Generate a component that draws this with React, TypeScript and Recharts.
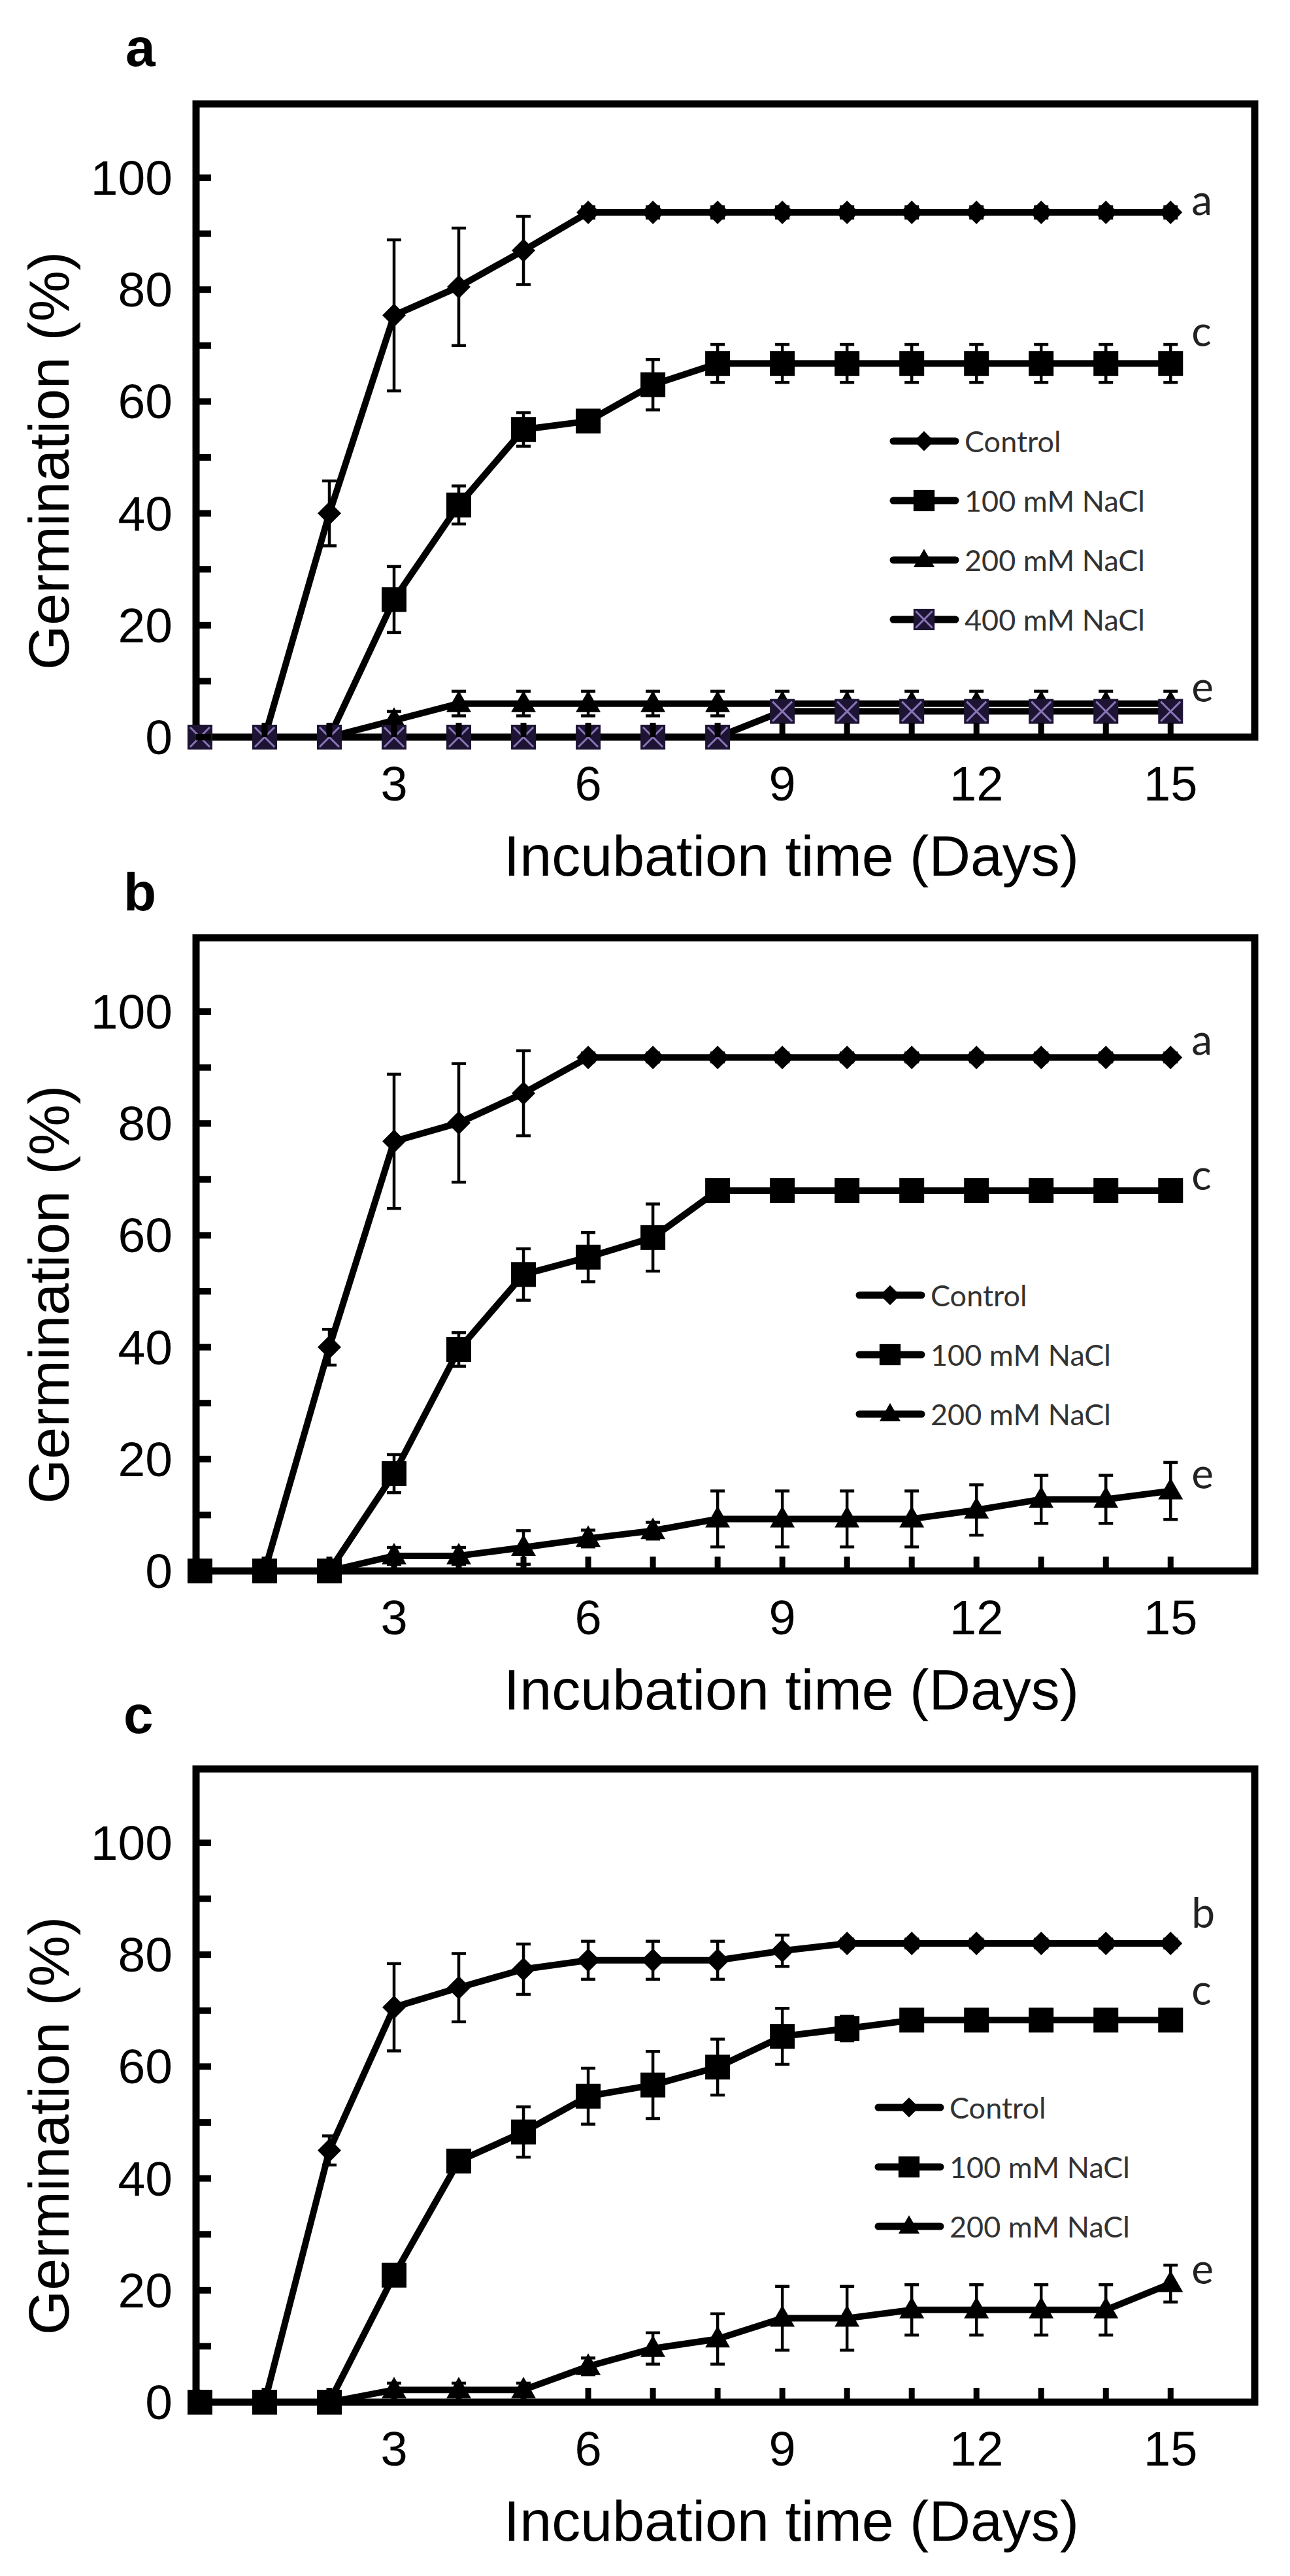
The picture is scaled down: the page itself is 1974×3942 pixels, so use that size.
import React from "react"
import {
  LineChart,
  Line,
  XAxis,
  YAxis,
  ErrorBar,
  ReferenceArea,
  Legend,
  Label,
  LabelList,
} from "recharts"

// shared axes
const days = [0, 1, 2, 3, 4, 5, 6, 7, 8, 9, 10, 11, 12, 13, 14, 15]
const xTicks = [1, 2, 3, 4, 5, 6, 7, 8, 9, 10, 11, 12, 13, 14, 15]
const yTicks = [0, 10, 20, 30, 40, 50, 60, 70, 80, 90, 100]
const treatments = ["Control", "100 mM NaCl", "200 mM NaCl", "400 mM NaCl"]
const panelLetters = ["a", "b", "c"]
const xTitle = "Incubation time (Days)"
const yTitle = "Germination (%)"

// panel a
const aControl = [0, 0, 40, 75.4, 80.5, 87, 93.8, 93.8, 93.8, 93.8, 93.8, 93.8, 93.8, 93.8, 93.8, 93.8]
const aControlErr = [0, 0, 5.8, 13.5, 10.5, 6.1, 1, 1, 1, 1, 1, 1, 1, 1, 1, 1]
const a100 = [0, 0, 0, 24.6, 41.5, 55, 56.5, 63, 66.8, 66.8, 66.8, 66.8, 66.8, 66.8, 66.8, 66.8]
const a100Err = [0, 0, 0, 5.9, 3.4, 3, 1.5, 4.5, 3.4, 3.4, 3.4, 3.4, 3.4, 3.4, 3.4, 3.4]
const a200 = [0, 0, 0, 3, 6, 6, 6, 6, 6, 6, 6, 6, 6, 6, 6, 6]
const a200Err = [0, 0, 0, 1.6, 2.2, 2.2, 2.2, 2.2, 2.2, 2.2, 2.2, 2.2, 2.2, 2.2, 2.2, 2.2]
const a400 = [0, 0, 0, 0, 0, 0, 0, 0, 0, 4.6, 4.6, 4.6, 4.6, 4.6, 4.6, 4.6]
const a400Err = [0, 0, 0, 0, 0, 0, 0, 0, 0, 0.8, 0.8, 0.8, 0.8, 0.8, 0.8, 0.8]
const aTags = ["a", "c", "e", ""]

// panel b
const bControl = [0, 0, 40, 76.8, 80.1, 85.4, 91.8, 91.8, 91.8, 91.8, 91.8, 91.8, 91.8, 91.8, 91.8, 91.8]
const bControlErr = [0, 0, 3.2, 12, 10.6, 7.6, 0.8, 0.8, 0.8, 0.8, 0.8, 0.8, 0.8, 0.8, 0.8, 0.8]
const b100 = [0, 0, 0, 17.4, 39.6, 53, 56.1, 59.6, 68, 68, 68, 68, 68, 68, 68, 68]
const b100Err = [0, 0, 0, 3.4, 3, 4.6, 4.4, 6, 0.8, 0.8, 0.8, 0.8, 0.8, 0.8, 0.8, 0.8]
const b200 = [0, 0, 0, 2.7, 2.7, 4.2, 5.8, 7.2, 9.3, 9.3, 9.3, 9.3, 10.9, 12.8, 12.8, 14.3]
const b200Err = [0, 0, 0, 1.5, 1.5, 3, 1.5, 1.5, 5, 5, 5, 5, 4.5, 4.3, 4.3, 5.1]
const bTags = ["a", "c", "e"]

// panel c
const cControl = [0, 0, 45, 70.6, 74.1, 77.4, 79, 79, 79, 80.7, 82, 82, 82, 82, 82, 82]
const cControlErr = [0, 0, 2.6, 7.8, 6.1, 4.5, 3.4, 3.4, 3.4, 2.8, 0.8, 0.8, 0.8, 0.8, 0.8, 0.8]
const c100 = [0, 0, 0, 22.7, 43.1, 48.3, 54.7, 56.7, 59.9, 65.4, 66.8, 68.3, 68.3, 68.3, 68.3, 68.3]
const c100Err = [0, 0, 0, 1, 1, 4.5, 5, 6, 5, 5, 2.2, 0.8, 0.8, 0.8, 0.8, 0.8]
const c200 = [0, 0, 0, 2.2, 2.2, 2.2, 6.4, 9.6, 11.3, 15, 15, 16.5, 16.5, 16.5, 16.5, 21.2]
const c200Err = [0, 0, 0, 1.2, 1.2, 1.2, 1.5, 2.8, 4.5, 5.7, 5.7, 4.5, 4.5, 4.5, 4.5, 3.3]
const cTags = ["b", "c", "e"]

const X_MIN = -0.06
const X_MAX = 16.3
const Y_MAX = 113.2
const ARIAL = "'Liberation Sans', Arial, sans-serif"
const CALIBRI = "Lato, 'Open Sans', sans-serif"

type Shape = "diamond" | "square" | "triangle" | "xsquare"

interface Series {
  key: string
  name: string
  values: number[]
  errors: number[]
  shape: Shape
  tag: string
  tagLift: number
}

function Marker({ shape, cx, cy, k = 1 }: { shape: Shape; cx?: number; cy?: number; k?: number }) {
  if (cx == null || cy == null || isNaN(cx) || isNaN(cy)) return null
  if (shape === "diamond") {
    const w = 18 * k
    const h = 18 * k
    return <polygon points={`${cx},${cy - h} ${cx + w},${cy} ${cx},${cy + h} ${cx - w},${cy}`} fill="#000" />
  }
  if (shape === "square") {
    const s = 19 * k
    return <rect x={cx - s} y={cy - s} width={2 * s} height={2 * s} fill="#000" />
  }
  if (shape === "triangle") {
    const w = 19 * k
    return (
      <polygon
        points={`${cx},${cy - 20 * k} ${cx + w},${cy + 13 * k} ${cx - w},${cy + 13 * k}`}
        fill="#000"
      />
    )
  }
  const s = 19 * k
  const i = 4 * k
  return (
    <g>
      <rect x={cx - s} y={cy - s} width={2 * s} height={2 * s} fill="#1c1432" />
      <line x1={cx - s + i} y1={cy - s + i} x2={cx + s - i} y2={cy + s - i} stroke="#8a74b8" strokeWidth={3} />
      <line x1={cx - s + i} y1={cy + s - i} x2={cx + s - i} y2={cy - s + i} stroke="#8a74b8" strokeWidth={3} />
    </g>
  )
}

function XTick(props: any) {
  const { x, y, payload } = props
  const v = payload?.value
  return (
    <g>
      <line x1={x} x2={x} y1={y} y2={y - 22} stroke="#000" strokeWidth={9} />
      {v % 3 === 0 && (
        <text x={x} y={y + 97} textAnchor="middle" fontFamily={ARIAL} fontSize={74} fill="#000">
          {v}
        </text>
      )}
    </g>
  )
}

function YTick(props: any) {
  const { x, y, payload } = props
  const v = payload?.value
  return (
    <g>
      <line x1={x} x2={x + 23} y1={y} y2={y} stroke="#000" strokeWidth={10} />
      {v % 20 === 0 && (
        <text x={x - 36} y={y} textAnchor="end" dominantBaseline="central" fontFamily={ARIAL} fontSize={75} fill="#000">
          {v}
        </text>
      )}
    </g>
  )
}

function Panel({
  top,
  series,
  legendX,
  legendY,
}: {
  top: number
  series: Series[]
  legendX: number
  legendY: number
}) {
  const last = days.length - 1
  const rows = days.map((d, i) => {
    const r: Record<string, any> = { day: d }
    series.forEach((s) => {
      r[s.key] = s.values[i]
      r[s.key + "Err"] = s.errors[i]
      r[s.key + "Tag"] = i === last && s.tag ? s.tag : undefined
    })
    return r
  })

  const renderLegend = (props: any) => {
    const names: string[] = (props?.payload ?? []).map((p: any) => p.value)
    let items = series.filter((s) => names.includes(s.name))
    if (items.length === 0) items = series
    return (
      <svg width={560} height={items.length * 91 + 10} style={{ overflow: "visible" }}>
        {items.map((s, i) => (
          <g key={s.key} transform={`translate(0, ${45 + i * 91})`}>
            <line x1={5} x2={100} y1={0} y2={0} stroke="#000" strokeWidth={11} strokeLinecap="round" />
            <Marker shape={s.shape} cx={52} cy={0} k={0.85} />
            <text x={114} y={0} dominantBaseline="central" fontFamily={CALIBRI} fontSize={45} fill="#333">
              {s.name}
            </text>
          </g>
        ))}
      </svg>
    )
  }

  return (
    <div style={{ position: "absolute", left: 0, top }}>
      <LineChart width={1974} height={1390} data={rows} margin={{ top: 159, right: 54, bottom: 0, left: 0 }}>
        <ReferenceArea
          x1={X_MIN}
          x2={X_MAX}
          y1={0}
          y2={Y_MAX}
          fill="none"
          fillOpacity={0}
          stroke="#000"
          strokeWidth={11}
          ifOverflow="visible"
        />
        <XAxis
          type="number"
          dataKey="day"
          domain={[X_MIN, X_MAX]}
          ticks={xTicks}
          interval={0}
          axisLine={false}
          tickLine={false}
          tickSize={0}
          tickMargin={0}
          height={262}
          tick={(p: any) => <XTick {...p} />}
        >
          <Label
            content={() => (
              <text x={1211} y={1340} textAnchor="middle" fontFamily={ARIAL} fontSize={88} fill="#000">
                {xTitle}
              </text>
            )}
          />
        </XAxis>
        <YAxis
          type="number"
          domain={[0, Y_MAX]}
          ticks={yTicks}
          interval={0}
          axisLine={false}
          tickLine={false}
          tickSize={0}
          tickMargin={0}
          width={300}
          tick={(p: any) => <YTick {...p} />}
        >
          <Label
            content={() => (
              <text
                x={74}
                y={705}
                transform="rotate(-90 74 705)"
                textAnchor="middle"
                dominantBaseline="central"
                fontFamily={ARIAL}
                fontSize={88}
                fill="#000"
              >
                {yTitle}
              </text>
            )}
          />
        </YAxis>
        <Legend
          layout="vertical"
          align="center"
          verticalAlign="middle"
          wrapperStyle={{ left: legendX, top: legendY, width: 560, height: 380 }}
          content={renderLegend}
        />
        {series.map((s) => (
          <Line
            key={s.key}
            type="linear"
            dataKey={s.key}
            name={s.name}
            stroke="#000"
            strokeWidth={10}
            strokeLinejoin="round"
            isAnimationActive={false}
            dot={(p: any) => <Marker key={`${s.key}-${p.index}`} shape={s.shape} cx={p.cx} cy={p.cy} />}
            activeDot={false}
          >
            <ErrorBar dataKey={s.key + "Err"} direction="y" width={11} strokeWidth={4.5} stroke="#000" />
            <LabelList
              dataKey={s.key + "Tag"}
              content={(p: any) =>
                p.value ? (
                  <text
                    x={Number(p.x) + 32}
                    y={Number(p.y) + s.tagLift + 17}
                    fontFamily={CALIBRI}
                    fontSize={64}
                    fill="#222"
                  >
                    {p.value}
                  </text>
                ) : null
              }
            />
          </Line>
        ))}
      </LineChart>
    </div>
  )
}

const panelA: Series[] = [
  { key: "control", name: treatments[0], values: aControl, errors: aControlErr, shape: "diamond", tag: aTags[0], tagLift: -13 },
  { key: "n100", name: treatments[1], values: a100, errors: a100Err, shape: "square", tag: aTags[1], tagLift: -43 },
  { key: "n200", name: treatments[2], values: a200, errors: a200Err, shape: "triangle", tag: aTags[2], tagLift: -20 },
  { key: "n400", name: treatments[3], values: a400, errors: a400Err, shape: "xsquare", tag: aTags[3], tagLift: 0 },
]

const panelB: Series[] = [
  { key: "control", name: treatments[0], values: bControl, errors: bControlErr, shape: "diamond", tag: bTags[0], tagLift: -21 },
  { key: "n100", name: treatments[1], values: b100, errors: b100Err, shape: "square", tag: bTags[1], tagLift: -18 },
  { key: "n200", name: treatments[2], values: b200, errors: b200Err, shape: "triangle", tag: bTags[2], tagLift: -21 },
]

const panelC: Series[] = [
  { key: "control", name: treatments[0], values: cControl, errors: cControlErr, shape: "diamond", tag: cTags[0], tagLift: -41 },
  { key: "n100", name: treatments[1], values: c100, errors: c100Err, shape: "square", tag: cTags[1], tagLift: -40 },
  { key: "n200", name: treatments[2], values: c200, errors: c200Err, shape: "triangle", tag: cTags[2], tagLift: -17 },
]

export default function App() {
  return (
    <div style={{ position: "absolute", left: 0, top: 0, width: 1974, height: 3942, background: "#fff" }}>
      <svg width={1974} height={3942} style={{ position: "absolute", left: 0, top: 0 }}>
        <text x={192} y={101} fontFamily={ARIAL} fontWeight="bold" fontSize={82} fill="#000">
          {panelLetters[0]}
        </text>
        <text x={189} y={1393} fontFamily={ARIAL} fontWeight="bold" fontSize={82} fill="#000">
          {panelLetters[1]}
        </text>
        <text x={189} y={2652} fontFamily={ARIAL} fontWeight="bold" fontSize={82} fill="#000">
          {panelLetters[2]}
        </text>
      </svg>
      <Panel top={0} series={panelA} legendX={1362} legendY={630} />
      <Panel top={1276} series={panelB} legendX={1310} legendY={661} />
      <Panel top={2548} series={panelC} legendX={1339} legendY={632} />
    </div>
  )
}
